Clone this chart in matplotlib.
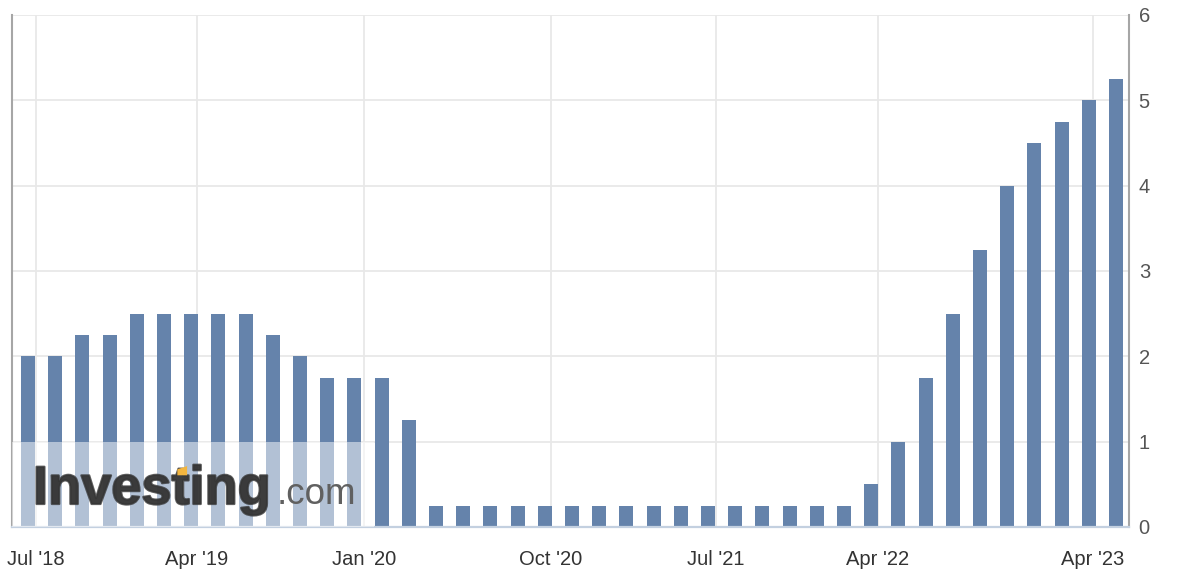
import numpy as np
import matplotlib
matplotlib.use("Agg")
import matplotlib.pyplot as plt
from matplotlib.patches import Rectangle, Polygon
import matplotlib.patheffects as pe

# FOMC meeting dates (categories) and upper-bound policy rate (%)
meeting_dates = [
    "2018-06-13", "2018-08-01", "2018-09-26", "2018-11-08", "2018-12-19",
    "2019-01-30", "2019-03-20", "2019-05-01", "2019-06-19", "2019-07-31",
    "2019-09-18", "2019-10-30", "2019-12-11", "2020-01-29", "2020-03-03",
    "2020-03-15", "2020-04-29", "2020-06-10", "2020-07-29", "2020-09-16",
    "2020-11-05", "2020-12-16", "2021-01-27", "2021-03-17", "2021-04-28",
    "2021-06-16", "2021-07-28", "2021-09-22", "2021-11-03", "2021-12-15",
    "2022-01-26", "2022-03-16", "2022-05-04", "2022-06-15", "2022-07-27",
    "2022-09-21", "2022-11-02", "2022-12-14", "2023-02-01", "2023-03-22",
    "2023-05-03",
]
rates = [
    2.0, 2.0, 2.25, 2.25, 2.5,
    2.5, 2.5, 2.5, 2.5, 2.25,
    2.0, 1.75, 1.75, 1.75, 1.25,
    0.25, 0.25, 0.25, 0.25, 0.25,
    0.25, 0.25, 0.25, 0.25, 0.25,
    0.25, 0.25, 0.25, 0.25, 0.25,
    0.25, 0.5, 1.0, 1.75, 2.5,
    3.25, 4.0, 4.5, 4.75, 5.0,
    5.25,
]
tick_dates = ["2018-07-01", "2019-04-01", "2020-01-01", "2020-10-01",
              "2021-07-01", "2022-04-01", "2023-04-01"]
tick_labels = ["Jul '18", "Apr '19", "Jan '20", "Oct '20", "Jul '21", "Apr '22", "Apr '23"]
y_ticks = [0, 1, 2, 3, 4, 5, 6]

W, H = 1178, 588
fig = plt.figure(figsize=(W / 100, H / 100), dpi=100)
ax = fig.add_axes([12 / W, 1 - 527 / H, (1129 - 12) / W, (527 - 15) / H])

idx = np.arange(len(rates))
md = np.array(meeting_dates, dtype="datetime64[D]").astype(float)
td = np.array(tick_dates, dtype="datetime64[D]").astype(float)
tick_pos = np.interp(td, md, idx) - 0.08

bar_color = "#6583ab"
ax.bar(idx, rates, width=0.515, color=bar_color, zorder=2)

ax.set_xlim(-0.588, 40.478)
ax.set_ylim(0, 6)
ax.set_yticks(y_ticks)
ax.set_xticks(tick_pos)
ax.set_xticklabels(tick_labels)

ax.yaxis.tick_right()
ax.tick_params(axis="y", length=0, pad=7, labelsize=14.5, labelcolor="#555555")
ax.tick_params(axis="x", length=0, pad=16.5, labelsize=14.5, labelcolor="#333333")
for lab in ax.get_xticklabels() + ax.get_yticklabels():
    lab.set_family(["Liberation Sans", "DejaVu Sans"])

ax.grid(True, color="#e8e8e8", linewidth=1.3, zorder=0)
ax.set_axisbelow(True)

ax.spines["top"].set_visible(False)
ax.spines["left"].set_color("#a6a6a6")
ax.spines["left"].set_linewidth(1.5)
ax.spines["right"].set_color("#a6a6a6")
ax.spines["right"].set_linewidth(1.5)
ax.spines["bottom"].set_color("#c3d0e0")
ax.spines["bottom"].set_linewidth(1.6)

# watermark overlay
ax.add_patch(Rectangle((-0.588, 0), 12.72 + 0.588, 1, facecolor="white",
                       alpha=0.5, edgecolor="none", zorder=3))

wm_fs = 39
x0_px, base_px = 33, 504
wm_family = ["Liberation Sans", "DejaVu Sans"]
fig.text(x0_px / W, 1 - base_px / H, "Investing", fontsize=wm_fs, fontweight="bold",
         family=wm_family, color="#353535", alpha=0.8,
         ha="left", va="baseline", zorder=5,
         path_effects=[pe.withStroke(linewidth=1.6, foreground="#353535", alpha=0.8)])
fig.text(277 / W, 1 - base_px / H, ".com", fontsize=26.5,
         family=wm_family, color="#606060",
         ha="left", va="baseline", zorder=5)

# orange top of the "t" in the logo
fig.canvas.draw()
r = fig.canvas.get_renderer()
tmp = fig.text(0, 0, "Inves", fontsize=wm_fs, fontweight="bold", family=wm_family)
w_inves = tmp.get_window_extent(r).width
tmp.remove()
em = wm_fs * 100 / 72
tx0 = x0_px + w_inves + 0.11 * em
tx1 = x0_px + w_inves + 0.29 * em
ty0 = base_px - 0.53 * em
ty1 = base_px - 0.70 * em
fig.patches.append(Polygon([(tx0 / W, 1 - ty0 / H), (tx1 / W, 1 - ty0 / H),
                            (tx1 / W, 1 - ty1 / H), (tx0 / W, 1 - (ty1 + 0.06 * em) / H)],
                           closed=True, transform=fig.transFigure,
                           facecolor="#f2b53f", edgecolor="none", zorder=6))

fig.savefig("out.png", dpi=100, facecolor="white")
